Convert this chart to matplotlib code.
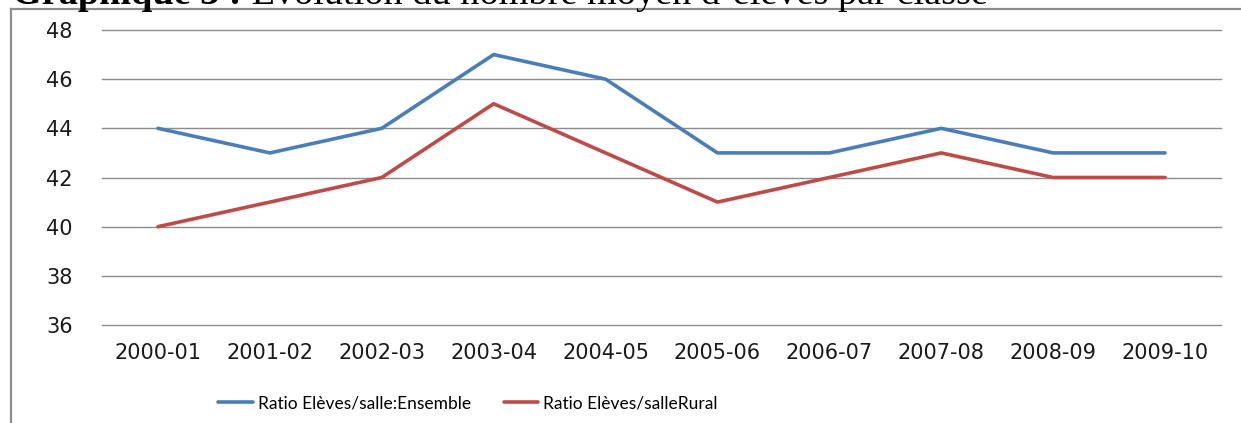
import matplotlib
matplotlib.use("Agg")
import matplotlib.pyplot as plt
from matplotlib.lines import Line2D

years = ["2000-01", "2001-02", "2002-03", "2003-04", "2004-05",
         "2005-06", "2006-07", "2007-08", "2008-09", "2009-10"]
ensemble = [44, 43, 44, 47, 46, 43, 43, 44, 43, 43]
rural = [40, 41, 42, 45, 43, 41, 42, 43, 42, 42]
yticks = [36, 38, 40, 42, 44, 46, 48]
label_ens = "Ratio Elèves/salle:Ensemble"
label_rur = "Ratio Elèves/salleRural"
title_bold = "Graphique 3 :"
title_rest = " Evolution du nombre moyen d\u2019élèves par classe"

W, H = 1241, 423
fig = plt.figure(figsize=(W / 100, H / 100), dpi=100)

def fx(px):
    return px / W

def fy(py):
    return 1 - py / H

ax = fig.add_axes([fx(102), fy(325), fx(1221) - fx(102), fy(30) - fy(325)])
x = list(range(len(years)))
ax.plot(x, ensemble, color="#4A7EBB", lw=2.6, solid_capstyle="round", label=label_ens, zorder=3)
ax.plot(x, rural, color="#BE4B48", lw=2.6, solid_capstyle="round", label=label_rur, zorder=3)
ax.set_xlim(-0.5, len(years) - 0.5)
ax.set_ylim(36, 48)
ax.set_yticks(yticks)
ax.set_xticks(x)
ax.set_xticklabels(years)
ax.grid(axis="y", color="#8c8c8c", lw=1.0)
for gl in ax.get_ygridlines():
    gl.set_clip_on(False)
ax.set_axisbelow(True)
for s in ax.spines.values():
    s.set_visible(False)
ax.tick_params(length=0, labelsize=15, colors="#1a1a1a")
ax.tick_params(axis="y", pad=21)
ax.tick_params(axis="x", pad=13)
for t in ax.get_xticklabels() + ax.get_yticklabels():
    t.set_fontfamily("DejaVu Sans")

# outer frame (cropped chart border)
fig.add_artist(Line2D([fx(11), fx(11)], [fy(9), 0], color="#8c8c8c", lw=1.6))
fig.add_artist(Line2D([fx(11), 1], [fy(9), fy(9)], color="#8c8c8c", lw=1.6))

# legend
leg = fig.legend(handles=ax.get_lines(), loc="center left",
                 bbox_to_anchor=(fx(218), fy(403)), ncol=2, frameon=False,
                 handlelength=2.0, handletextpad=0.28, columnspacing=1.9,
                 prop={"family": "Lato", "size": 12.5}, borderaxespad=0, borderpad=0)

# cropped title
t1 = fig.text(fx(12), fy(4), title_bold, fontsize=27.5, fontweight="bold",
              family="Liberation Serif", va="baseline", ha="left")
fig.canvas.draw()
bb = t1.get_window_extent()
fig.text(bb.x1 / W, fy(4), title_rest, fontsize=27.5, family="Liberation Serif",
         va="baseline", ha="left")

fig.savefig("out.png", dpi=100)
